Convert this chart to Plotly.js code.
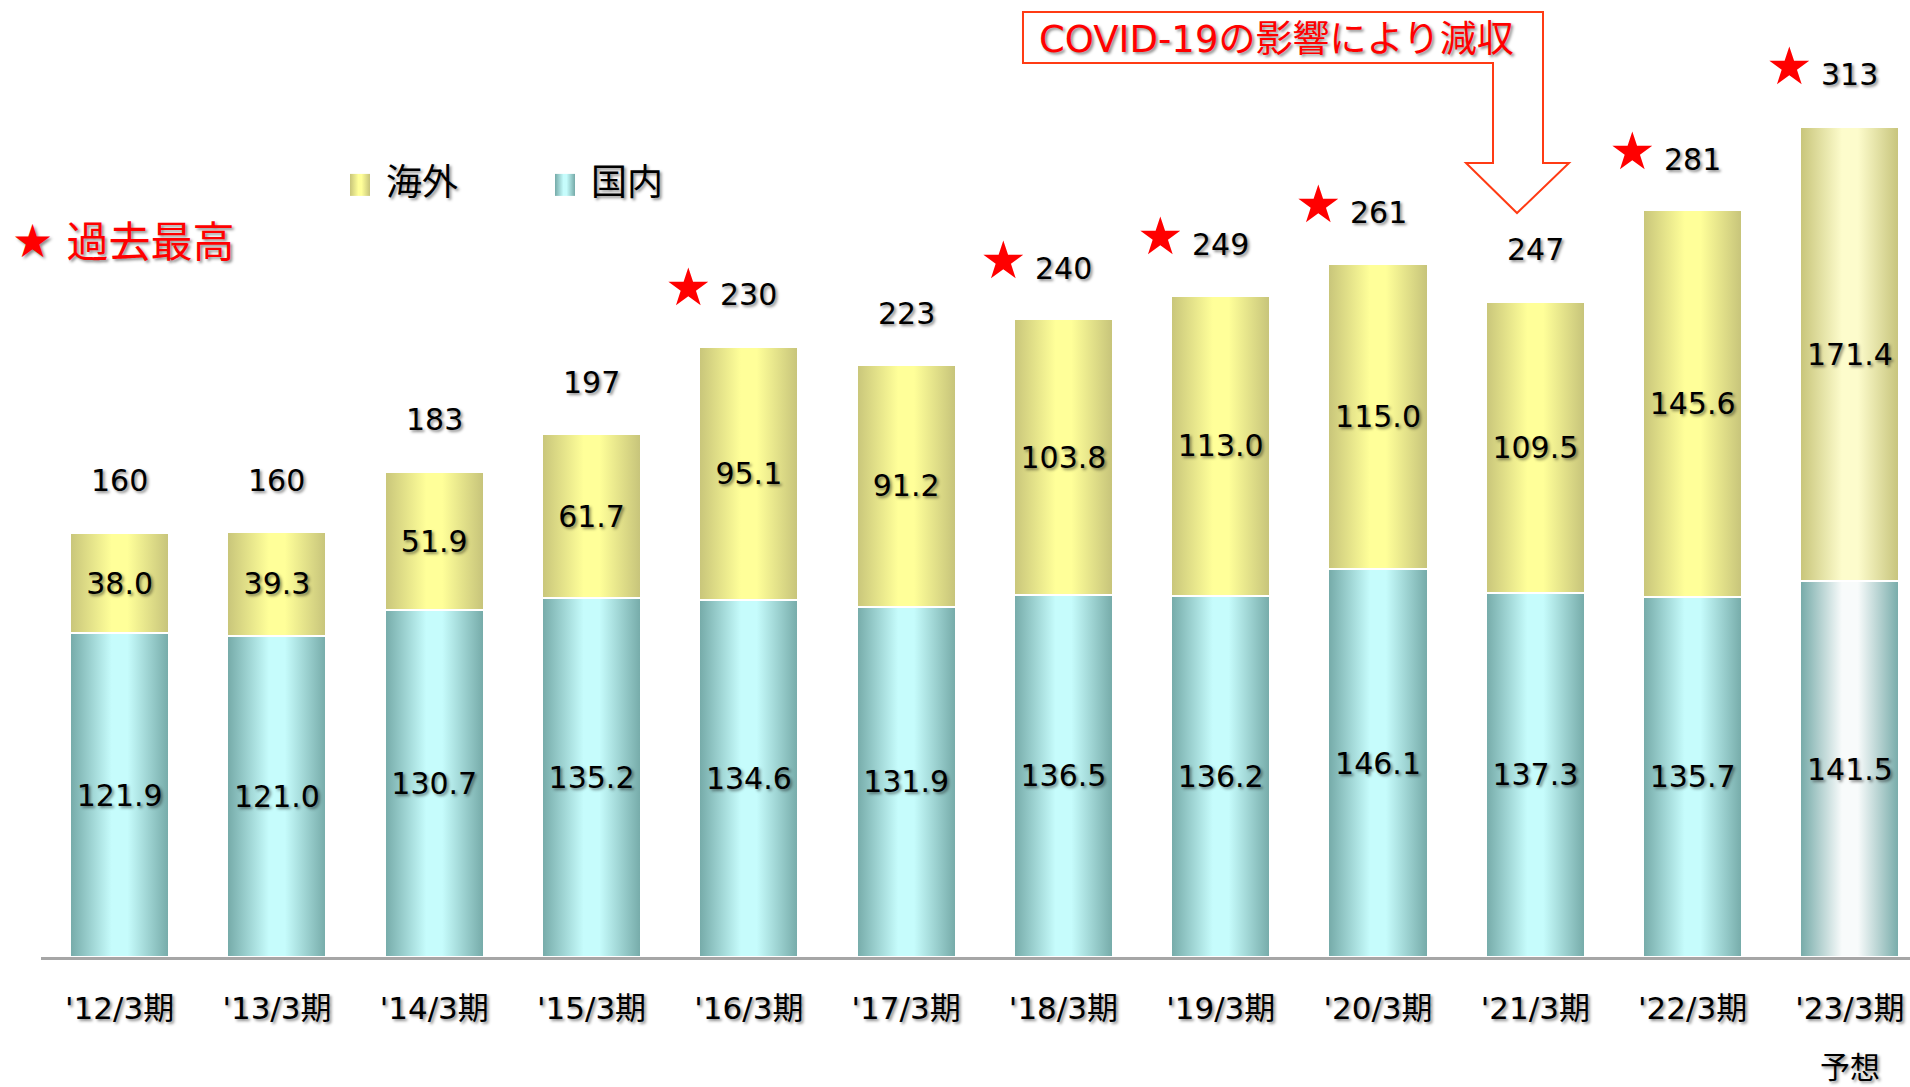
<!DOCTYPE html>
<html>
<head>
<meta charset="utf-8">
<script src="https://cdn.plot.ly/plotly-3.0.1.min.js"></script>
<style>
html,body{margin:0;padding:0;background:#ffffff;}
#chart{width:1910px;height:1087px;}
</style>
</head>
<body>
<div id="chart"></div>
<script>
// ---------- data ----------
const categories = ["'12/3期","'13/3期","'14/3期","'15/3期","'16/3期","'17/3期","'18/3期","'19/3期","'20/3期","'21/3期","'22/3期","'23/3期"];
const domestic = [121.9,121.0,130.7,135.2,134.6,131.9,136.5,136.2,146.1,137.3,135.7,141.5];
const overseas = [38.0,39.3,51.9,61.7,95.1,91.2,103.8,113.0,115.0,109.5,145.6,171.4];
const totals   = [160,160,183,197,230,223,240,249,261,247,281,313];
const isRecord = [false,false,false,false,true,false,true,true,true,false,true,true];
const isForecast = [false,false,false,false,false,false,false,false,false,false,false,true];
const seriesNames = {domestic:"国内", overseas:"海外"};
const forecastLabel = "予想";
const recordLabel = "過去最高";
const covidNote = "COVID-19の影響により減収";

// ---------- style ----------
const FONT = "'DejaVu Sans', 'Noto Sans CJK JP', sans-serif";
const SHADOW = "2px 2px 3px rgba(0,0,0,0.45)";
const L = 41, W = 1869, H = 957;           // plot area in pixels
const px = p => (p - L) / W;               // pixel -> paper x
const py = p => (H - p) / H;               // pixel -> paper y

const traces = [
  {
    type:'bar', name:seriesNames.domestic, x:categories, y:domestic,
    text:domestic.map(v=>v.toFixed(1)), textposition:'inside', insidetextanchor:'middle',
    textangle:0, constraintext:'none',
    textfont:{family:FONT,size:30,color:'#000000',shadow:SHADOW},
    marker:{color:'#a6dede', line:{color:'#ffffff',width:2}},
    hoverinfo:'skip'
  },
  {
    type:'bar', name:seriesNames.overseas, x:categories, y:overseas,
    text:overseas.map(v=>v.toFixed(1)), textposition:'inside', insidetextanchor:'middle',
    textangle:0, constraintext:'none',
    textfont:{family:FONT,size:30,color:'#000000',shadow:SHADOW},
    marker:{color:'#eeee8c', line:{color:'#ffffff',width:2}},
    hoverinfo:'skip'
  }
];

const annotations = [];
categories.forEach((c,i)=>{
  annotations.push({x:c, y:totals[i], xref:'x', yref:'y', text:String(totals[i]), showarrow:false,
    yanchor:'middle', yshift:52, font:{family:FONT,size:30,color:'#000000',shadow:SHADOW}});
  if(isRecord[i]){
    annotations.push({x:c, y:totals[i], xref:'x', yref:'y', text:'★', showarrow:false,
      yanchor:'middle', xshift:-60, yshift:60, font:{family:FONT,size:52,color:'#FF0000'}});
  }
  if(isForecast[i]){
    annotations.push({x:c, y:0, xref:'x', yref:'y', text:forecastLabel, showarrow:false,
      yanchor:'middle', yshift:-110, font:{family:FONT,size:30,color:'#000000',shadow:SHADOW}});
  }
});
annotations.push({xref:'paper', yref:'paper', x:px(10), y:py(241), xanchor:'left', yanchor:'middle',
  showarrow:false, text:'<span style="font-size:46px">★</span> '+recordLabel,
  font:{family:FONT,size:42,color:'#FF0000',shadow:SHADOW}});
annotations.push({xref:'paper', yref:'paper', x:px(1276), y:py(40), xanchor:'center', yanchor:'middle',
  showarrow:false, text:covidNote, font:{family:FONT,size:37,color:'#FF0000',shadow:SHADOW}});

const callout = [[1023,12],[1543,12],[1543,163],[1569,163],[1517,213],[1466,163],[1493,163],[1493,63],[1023,63]];
const calloutPath = 'M' + callout.map(p=>px(p[0]).toFixed(5)+','+py(p[1]).toFixed(5)).join(' L') + ' Z';

const layout = {
  width:1910, height:1087,
  margin:{l:L, r:0, t:0, b:1087-H, pad:0},
  paper_bgcolor:'#ffffff', plot_bgcolor:'#ffffff',
  barmode:'stack', bargap:0.37,
  showlegend:true,
  legend:{orientation:'h', x:px(346), xanchor:'left', y:py(181), yanchor:'middle',
    traceorder:'reversed', entrywidth:160, entrywidthmode:'pixels',
    bgcolor:'rgba(0,0,0,0)', borderwidth:0,
    font:{family:FONT,size:36,color:'#000000',shadow:SHADOW}},
  xaxis:{type:'category', range:[-0.5, 11.382], showline:true, linecolor:'#a6a6a6', linewidth:3,
    ticks:'', showgrid:false, zeroline:false, ticklabelstandoff:22,
    tickfont:{family:FONT,size:31,color:'#000000',shadow:SHADOW}, fixedrange:true},
  yaxis:{range:[0, 360.6], showticklabels:false, showgrid:false, zeroline:false, showline:false, ticks:'', fixedrange:true},
  annotations:annotations,
  shapes:[{type:'path', xref:'paper', yref:'paper', path:calloutPath,
    line:{color:'#FF3B14', width:2}, fillcolor:'rgba(0,0,0,0)', layer:'above'}]
};

function applyGradients(gd){
  const NS = 'http://www.w3.org/2000/svg';
  const svg = gd.querySelector('svg.main-svg');
  const defs = document.createElementNS(NS,'defs');
  svg.insertBefore(defs, svg.firstChild);
  function grad(id, stops){
    const lg = document.createElementNS(NS,'linearGradient');
    lg.setAttribute('id', id);
    lg.setAttribute('x1','0'); lg.setAttribute('y1','0'); lg.setAttribute('x2','1'); lg.setAttribute('y2','0');
    stops.forEach(s=>{
      const st = document.createElementNS(NS,'stop');
      st.setAttribute('offset', s[0]); st.setAttribute('stop-color', s[1]);
      lg.appendChild(st);
    });
    defs.appendChild(lg);
  }
  grad('gDom',  [[0,'#75aaa8'],[0.42,'#c6fcfc'],[0.58,'#c6fcfc'],[1,'#75aaa8']]);
  grad('gDomF', [[0,'#75aaa8'],[0.42,'#f8fbfb'],[0.58,'#f8fbfb'],[1,'#75aaa8']]);
  grad('gOv',   [[0,'#c8c57a'],[0.42,'#ffff99'],[0.58,'#ffff99'],[1,'#c6c37a']]);
  grad('gOvF',  [[0,'#c8c57a'],[0.42,'#fdfccc'],[0.58,'#fdfccc'],[1,'#c6c37a']]);
  const ids = [['gDom','gDomF'],['gOv','gOvF']];
  gd.querySelectorAll('.barlayer .trace').forEach((tr, ti)=>{
    tr.querySelectorAll('.point path').forEach((p, i)=>{
      p.style.fill = 'url(#' + ids[ti][isForecast[i] ? 1 : 0] + ')';
    });
  });
  gd.querySelectorAll('.legend [clip-path]').forEach(el=>el.removeAttribute('clip-path'));
  gd.querySelectorAll('.legend .traces').forEach(item=>{
    const t = item.querySelector('.legendtext');
    const name = t ? t.textContent : '';
    item.querySelectorAll('.legendpoints path').forEach(p=>{
      p.setAttribute('d','M24,15H4V-7H24Z');
      p.removeAttribute('transform');
      p.style.fill = 'url(#' + (name === seriesNames.domestic ? 'gDom' : 'gOv') + ')';
      p.style.stroke = 'none';
      p.style.opacity = '1';
    });
  });
}

Plotly.newPlot('chart', traces, layout, {staticPlot:true, displayModeBar:false})
  .then(applyGradients);
</script>
</body>
</html>
